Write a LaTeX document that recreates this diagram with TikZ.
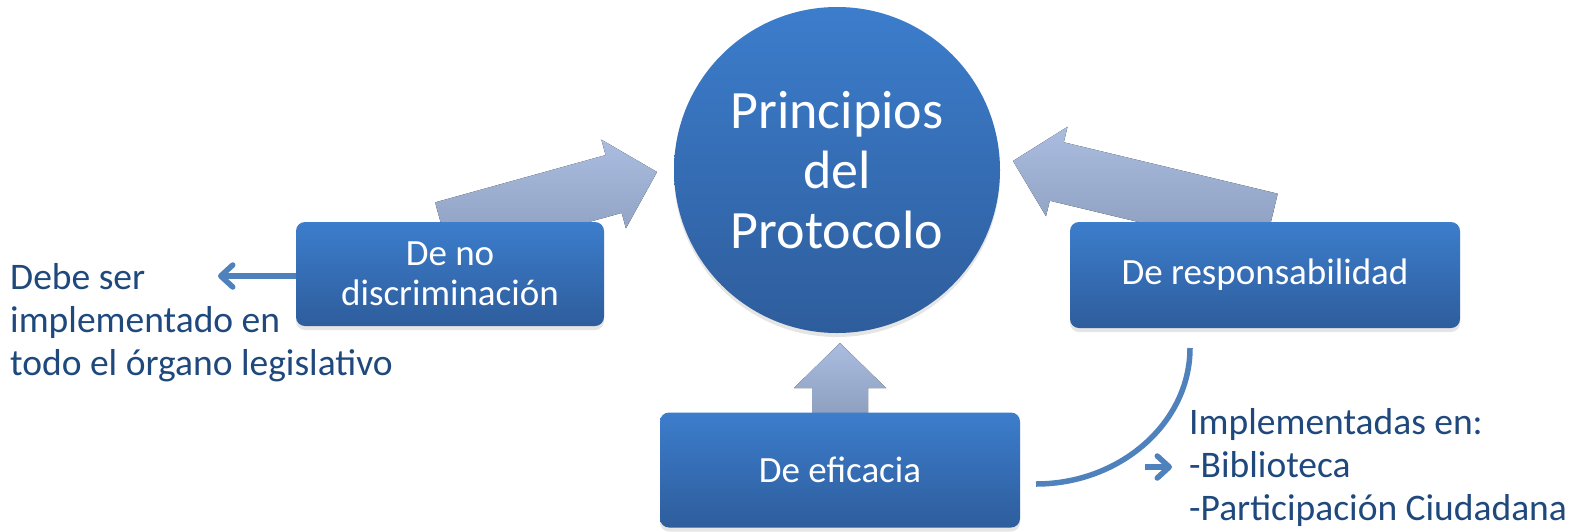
\documentclass[tikz,border=0pt]{standalone}
\usepackage{fontspec}
\setmainfont{Carlito}
\usetikzlibrary{arrows.meta,shadows}
\definecolor{boxtop}{HTML}{3C7DCC}
\definecolor{boxbot}{HTML}{2E5D9C}
\definecolor{arrtop}{HTML}{AABDE0}
\definecolor{arrbot}{HTML}{8A9BBB}
\definecolor{connblue}{HTML}{4F81BD}
\definecolor{sideblue}{HTML}{1F497D}
\begin{document}
\begin{tikzpicture}[x=1pt,y=-1pt,
  boxnode/.style={rectangle, rounded corners=9pt, top color=boxtop, bottom color=boxbot,
    text=white, align=center, font=\fontsize{37}{40}\selectfont, inner sep=0pt,
    drop shadow={shadow xshift=0pt,shadow yshift=-4pt,opacity=0.2}},
  hubnode/.style={circle, top color=boxtop, bottom color=boxbot, text=white, align=center,
    font=\fontsize{54}{60}\selectfont, inner sep=0pt, minimum size=326pt,
    drop shadow={shadow xshift=0pt,shadow yshift=-4pt,opacity=0.2}},
  sidetext/.style={text=sideblue, align=left, font=\fontsize{37.5}{43}\selectfont, inner sep=0pt},
  blockarrow/.style={top color=arrtop, bottom color=arrbot, draw=none},
  connline/.style={draw=connblue, line width=5.5pt},
  conntip/.style={-{Straight Barb[length=12pt,width=22pt,round]}}
]
\useasboundingbox[fill=white] (0,0) rectangle (1575,531);

% block arrows (behind boxes)
\fill[blockarrow] (657,172) -- (601.4,139.7) -- (605.6,155.1) -- (435.1,202.4) -- (451.1,260.2) -- (621.7,212.9) -- (625.9,228.4) -- cycle;
\fill[blockarrow] (1013,161) -- (1067.5,126.8) -- (1063.8,142.3) -- (1277.7,193.7) -- (1263.7,252.0) -- (1049.8,200.7) -- (1046.0,216.2) -- cycle;
\fill[blockarrow] (840,343) -- (886,388) -- (868,388) -- (868,425) -- (812,425) -- (812,388) -- (794,388) -- cycle;

% hub and boxes
\node[hubnode] (hub) at (837,170) {Principios\\del\\Protocolo};
\node[boxnode, minimum width=308pt, minimum height=104pt] (nodisc) at (450,274) {De no\\discriminación};
\node[boxnode, minimum width=390pt, minimum height=106pt] (resp) at (1265,275) {\raisebox{-2pt}{De responsabilidad}};
\node[boxnode, minimum width=360pt, minimum height=115pt] (efic) at (840,470) {De eficacia};

% side texts
\node[sidetext, anchor=west] (debe) at (10,323) {Debe ser\\implementado en\\todo el órgano legislativo};
\node[sidetext, anchor=west] (impl) at (1189,467) {Implementadas en:\\-Biblioteca\\-Participación Ciudadana};

% connectors
\coordinate (dtip) at (218,276);
\draw[connline, conntip] (dtip -| nodisc.west) -- (dtip);
\coordinate (ca) at (1190,348);
\coordinate (cb) at (1036,484);
\draw[connline] (ca) .. controls (1190,423) and (1120,484) .. (cb);
\coordinate (s1) at (1145,467);
\coordinate (s2) at (1172,467);
\draw[connline, conntip] (s1) -- (s2);
\end{tikzpicture}
\end{document}
